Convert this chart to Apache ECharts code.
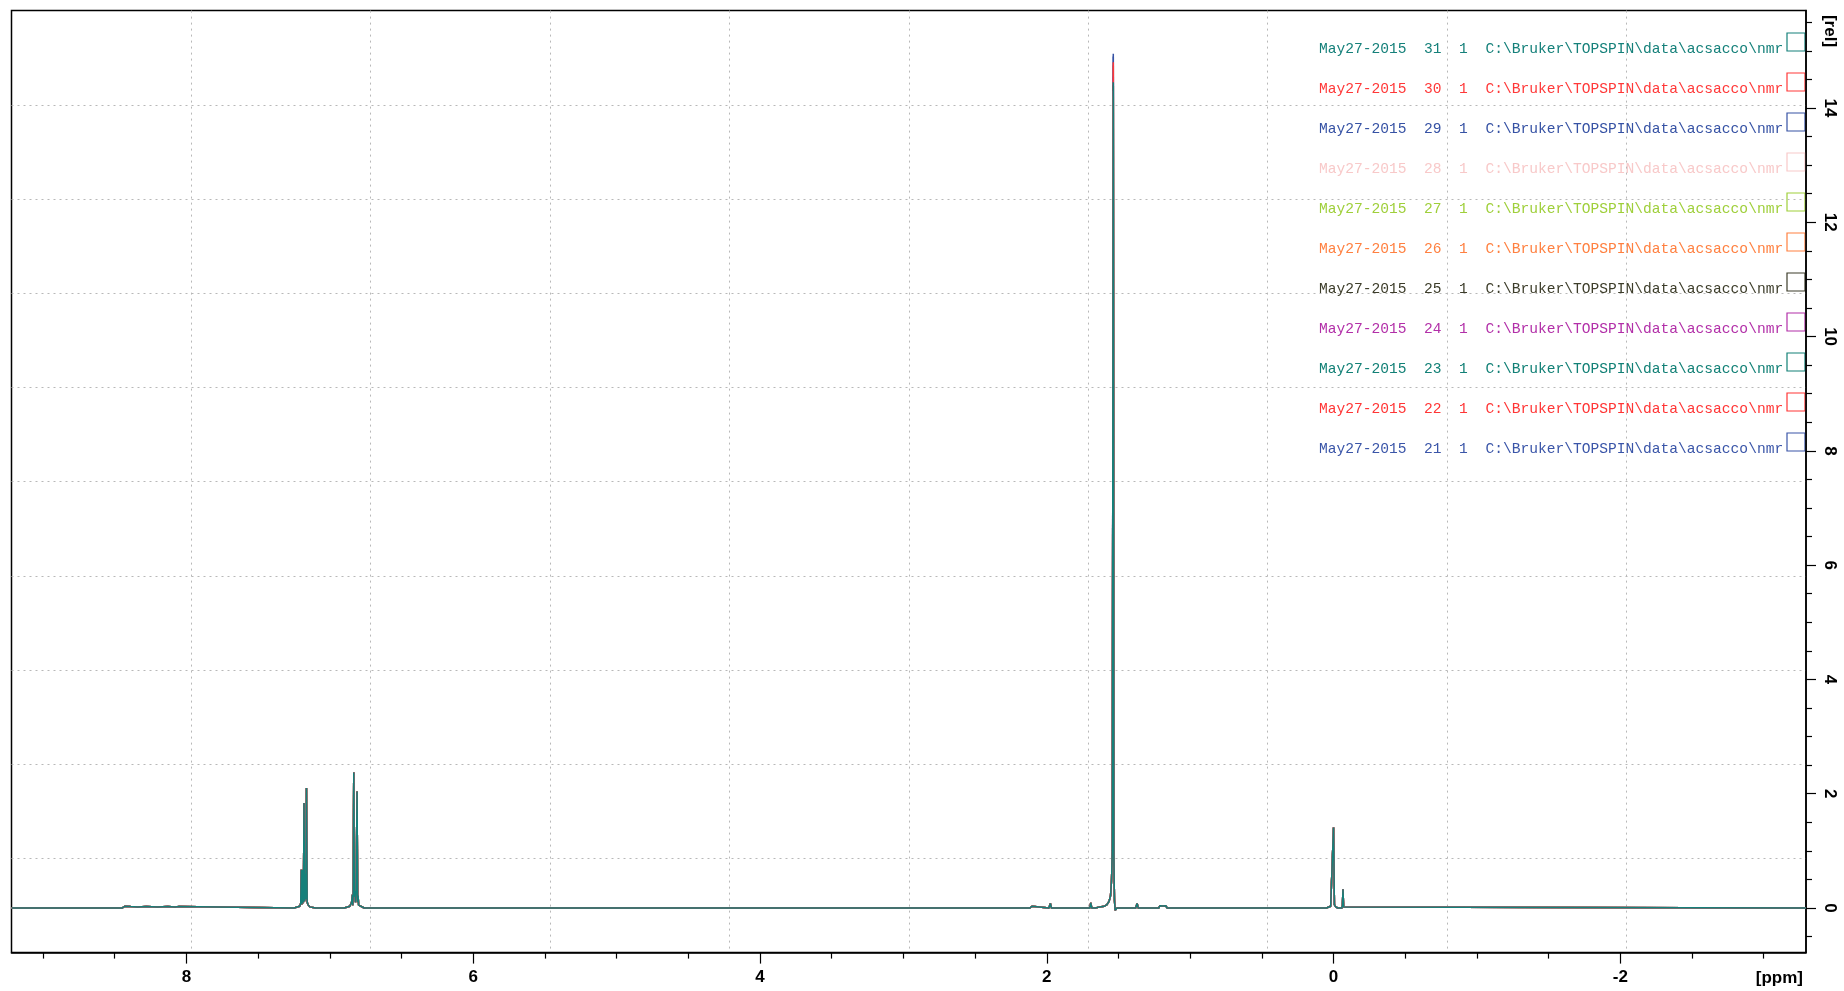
<!DOCTYPE html>
<html><head><meta charset="utf-8">
<script src="https://cdn.jsdelivr.net/npm/echarts@6/dist/echarts.min.js"></script>
<style>html,body{margin:0;padding:0;background:#fff}#c{width:1844px;height:991px}</style>
</head><body><div id="c"></div>
<script>
// ---- data ----
const expNumbers = [31, 30, 29, 28, 27, 26, 25, 24, 23, 22, 21];
const procNumbers = [1, 1, 1, 1, 1, 1, 1, 1, 1, 1, 1];
const expDate = 'May27-2015';
const dataPath = 'C:\\Bruker\\TOPSPIN\\data\\acsacco\\nmr';
const seriesColors = ['#15807a', '#ff3838', '#3652a4', '#f8c9c9', '#9fcf3a', '#ff8040', '#3d3d2a', '#b22fa8', '#128076', '#ff3535', '#3a55a8'];
const waterPeakHeights = [14.45, 14.8, 14.95, 14.3, 14.2, 14.1, 14.4, 14.55, 14.4, 14.75, 14.9];
const waterPeakPpm = 1.536;

const spectrumPpm = [
  9.22, 8.45, 8.43, 8.42, 8.39, 8.38, 8.34, 8.33, 8.28, 8.27, 8.20, 8.19, 8.13, 8.12, 8.08, 8.07, 8.05, 8.04,
  7.25, 7.21, 7.203, 7.199, 7.196, 7.193, 7.190, 7.187, 7.184, 7.180, 7.176, 7.172, 7.169, 7.166, 7.163, 7.158, 7.152, 7.14, 7.10,
  6.90, 6.86, 6.848, 6.843, 6.840, 6.837, 6.833, 6.829, 6.825, 6.821, 6.817, 6.810, 6.806, 6.803, 6.799, 6.79, 6.76,
  2.12, 2.103, 2.095, 1.985, 1.975, 1.967, 1.70, 1.693, 1.686, 1.66, 1.63, 1.60, 1.58, 1.565, 1.555, 1.548, 1.543,
  1.536, 1.532, 1.528, 1.523, 1.518, 1.51, 1.38, 1.370, 1.362, 1.22, 1.21, 1.20, 1.19, 1.18, 1.17, 1.16,
  0.05, 0.02, 0.010, 0.0, -0.006, -0.015, -0.03, -0.058, -0.062, -0.066, -0.070, -0.08, -3.295
];
const spectrumIntensity = [
  0, 0, 0.03, 0, 0.025, 0, 0.02, 0, 0.025, 0, 0.02, 0, 0.025, 0, 0.02, 0, 0.025, 0,
  0, 0.03, 0.08, 0.67, 0.06, 0.67, 0.08, 0.67, 0.1, 1.84, 0.12, 0.6, 0.15, 0.6, 2.10, 0.1, 0.06, 0.02, 0,
  0, 0.03, 0.1, 0.23, 0.05, 0.25, 2.37, 0.2, 0.3, 0.1, 0.25, 2.04, 0.1, 0.22, 0.05, 0.02, 0,
  0, 0.03, 0, 0, 0.08, 0, 0, 0.09, 0, 0, 0.02, 0.03, 0.06, 0.12, 0.22, 0.5, 1.0,
  14.45, 0.9, 0.15, -0.04, -0.02, 0, 0, 0.08, 0, 0, 0.04, 0.01, 0.035, 0.01, 0.04, 0,
  0, 0.03, 0.06, 1.41, 0.06, 0.02, 0, 0, 0.05, 0.33, 0.02, 0, 0
];

const xMajorTicks = [8, 6, 4, 2, 0, -2];
const xMinorTicks = [9, 8.5, 7.5, 7, 6.5, 5.5, 5, 4.5, 3.5, 3, 2.5, 1.5, 1, 0.5, -0.5, -1, -1.5, -2.5, -3];
const yMajorTicks = [0, 2, 4, 6, 8, 10, 12, 14];
const yMinorTicks = [-0.5, 0.5, 1, 1.5, 2.5, 3, 3.5, 4.5, 5, 5.5, 6.5, 7, 7.5, 8.5, 9, 9.5, 10.5, 11, 11.5, 12.5, 13, 13.5, 14.5, 15, 15.5];

// ---- chart ----
const X_MIN = -3.295, X_MAX = 9.22, Y_MIN = -0.78, Y_MAX = 15.705;
const waterIndex = spectrumPpm.indexOf(waterPeakPpm);

const series = [];
for (let i = expNumbers.length - 1; i >= 0; i--) {
  series.push({
    type: 'line', name: String(expNumbers[i]), xAxisIndex: 0, yAxisIndex: 0,
    showSymbol: false, symbol: 'none', animation: false, silent: true,
    lineStyle: { color: seriesColors[i], width: 1.5 },
    z: 10 + (expNumbers.length - i),
    data: spectrumPpm.map((p, k) => [p, k === waterIndex ? waterPeakHeights[i] : spectrumIntensity[k]])
  });
}

const graphics = [];
expNumbers.forEach((n, i) => {
  const cy = 48 + 40 * i;
  graphics.push({
    type: 'text', x: 1319, y: cy + 1, silent: true,
    style: { text: expDate + '  ' + n + '  ' + procNumbers[i] + '  ' + dataPath,
      fill: seriesColors[i], font: '14.6px "Liberation Mono", monospace', verticalAlign: 'middle' }
  });
  graphics.push({
    type: 'rect', shape: { x: 1787, y: cy - 15, width: 18, height: 18 }, silent: true,
    style: { fill: 'none', stroke: seriesColors[i], lineWidth: 1.2 }
  });
});
graphics.push({
  type: 'text', x: 1803, y: 978, silent: true,
  style: { text: '[ppm]', fill: '#000', font: 'bold 17px "Liberation Sans Narrow", "Liberation Sans", sans-serif', align: 'right', verticalAlign: 'middle' }
});
graphics.push({
  type: 'text', x: 1830, y: 31, rotation: -Math.PI / 2, silent: true,
  style: { text: '[rel]', fill: '#000', font: 'bold 17px "Liberation Sans Narrow", "Liberation Sans", sans-serif', align: 'center', verticalAlign: 'middle' }
});

const labelFont = { fontFamily: '"Liberation Sans Narrow", "Liberation Sans", sans-serif', fontWeight: 'bold', fontSize: 17, color: '#000' };
const noShow = { show: false };

const option = {
  backgroundColor: '#fff',
  animation: false,
  grid: { left: 11.5, right: 38, top: 10.6, bottom: 38.4, show: true, borderColor: '#000', borderWidth: 1.5, containLabel: false },
  xAxis: [
    { type: 'value', min: X_MIN, max: X_MAX, inverse: true, position: 'bottom',
      axisLine: { show: true, onZero: false, lineStyle: { color: '#000', width: 1.5 } },
      axisTick: { show: true, length: 11, customValues: xMajorTicks, lineStyle: { color: '#000', width: 1.2 } },
      axisLabel: Object.assign({ show: true, margin: 16, customValues: xMajorTicks, formatter: v => String(v) }, labelFont),
      splitLine: noShow },
    { type: 'value', min: X_MIN, max: X_MAX, inverse: true, position: 'bottom',
      axisLine: { show: false, onZero: false },
      axisTick: { show: true, length: 6, customValues: xMinorTicks, lineStyle: { color: '#000', width: 1.2 } },
      axisLabel: noShow, splitLine: noShow },
    { type: 'value', min: 0, max: 10, interval: 1, position: 'top',
      axisLine: { show: false, onZero: false }, axisTick: noShow, axisLabel: noShow,
      splitLine: { show: true, showMinLine: false, showMaxLine: false, lineStyle: { color: '#b8b8b8', width: 1, type: [2, 4] } } }
  ],
  yAxis: [
    { type: 'value', min: Y_MIN, max: Y_MAX, position: 'right',
      axisLine: { show: true, onZero: false, lineStyle: { color: '#000', width: 1.5 } },
      axisTick: { show: true, length: 10, customValues: yMajorTicks, lineStyle: { color: '#000', width: 1.2 } },
      axisLabel: Object.assign({ show: true, margin: 15, rotate: -90, customValues: yMajorTicks }, labelFont),
      splitLine: noShow },
    { type: 'value', min: Y_MIN, max: Y_MAX, position: 'right',
      axisLine: { show: false, onZero: false },
      axisTick: { show: true, length: 6, customValues: yMinorTicks, lineStyle: { color: '#000', width: 1.2 } },
      axisLabel: noShow, splitLine: noShow },
    { type: 'value', min: 0, max: 10, interval: 1, position: 'left',
      axisLine: { show: false, onZero: false }, axisTick: noShow, axisLabel: noShow,
      splitLine: { show: true, showMinLine: false, showMaxLine: false, lineStyle: { color: '#b8b8b8', width: 1, type: [2, 4] } } }
  ],
  series: series,
  graphic: graphics
};

const chart = echarts.init(document.getElementById('c'), null, { renderer: 'canvas' });
chart.setOption(option);
</script>
</body></html>
